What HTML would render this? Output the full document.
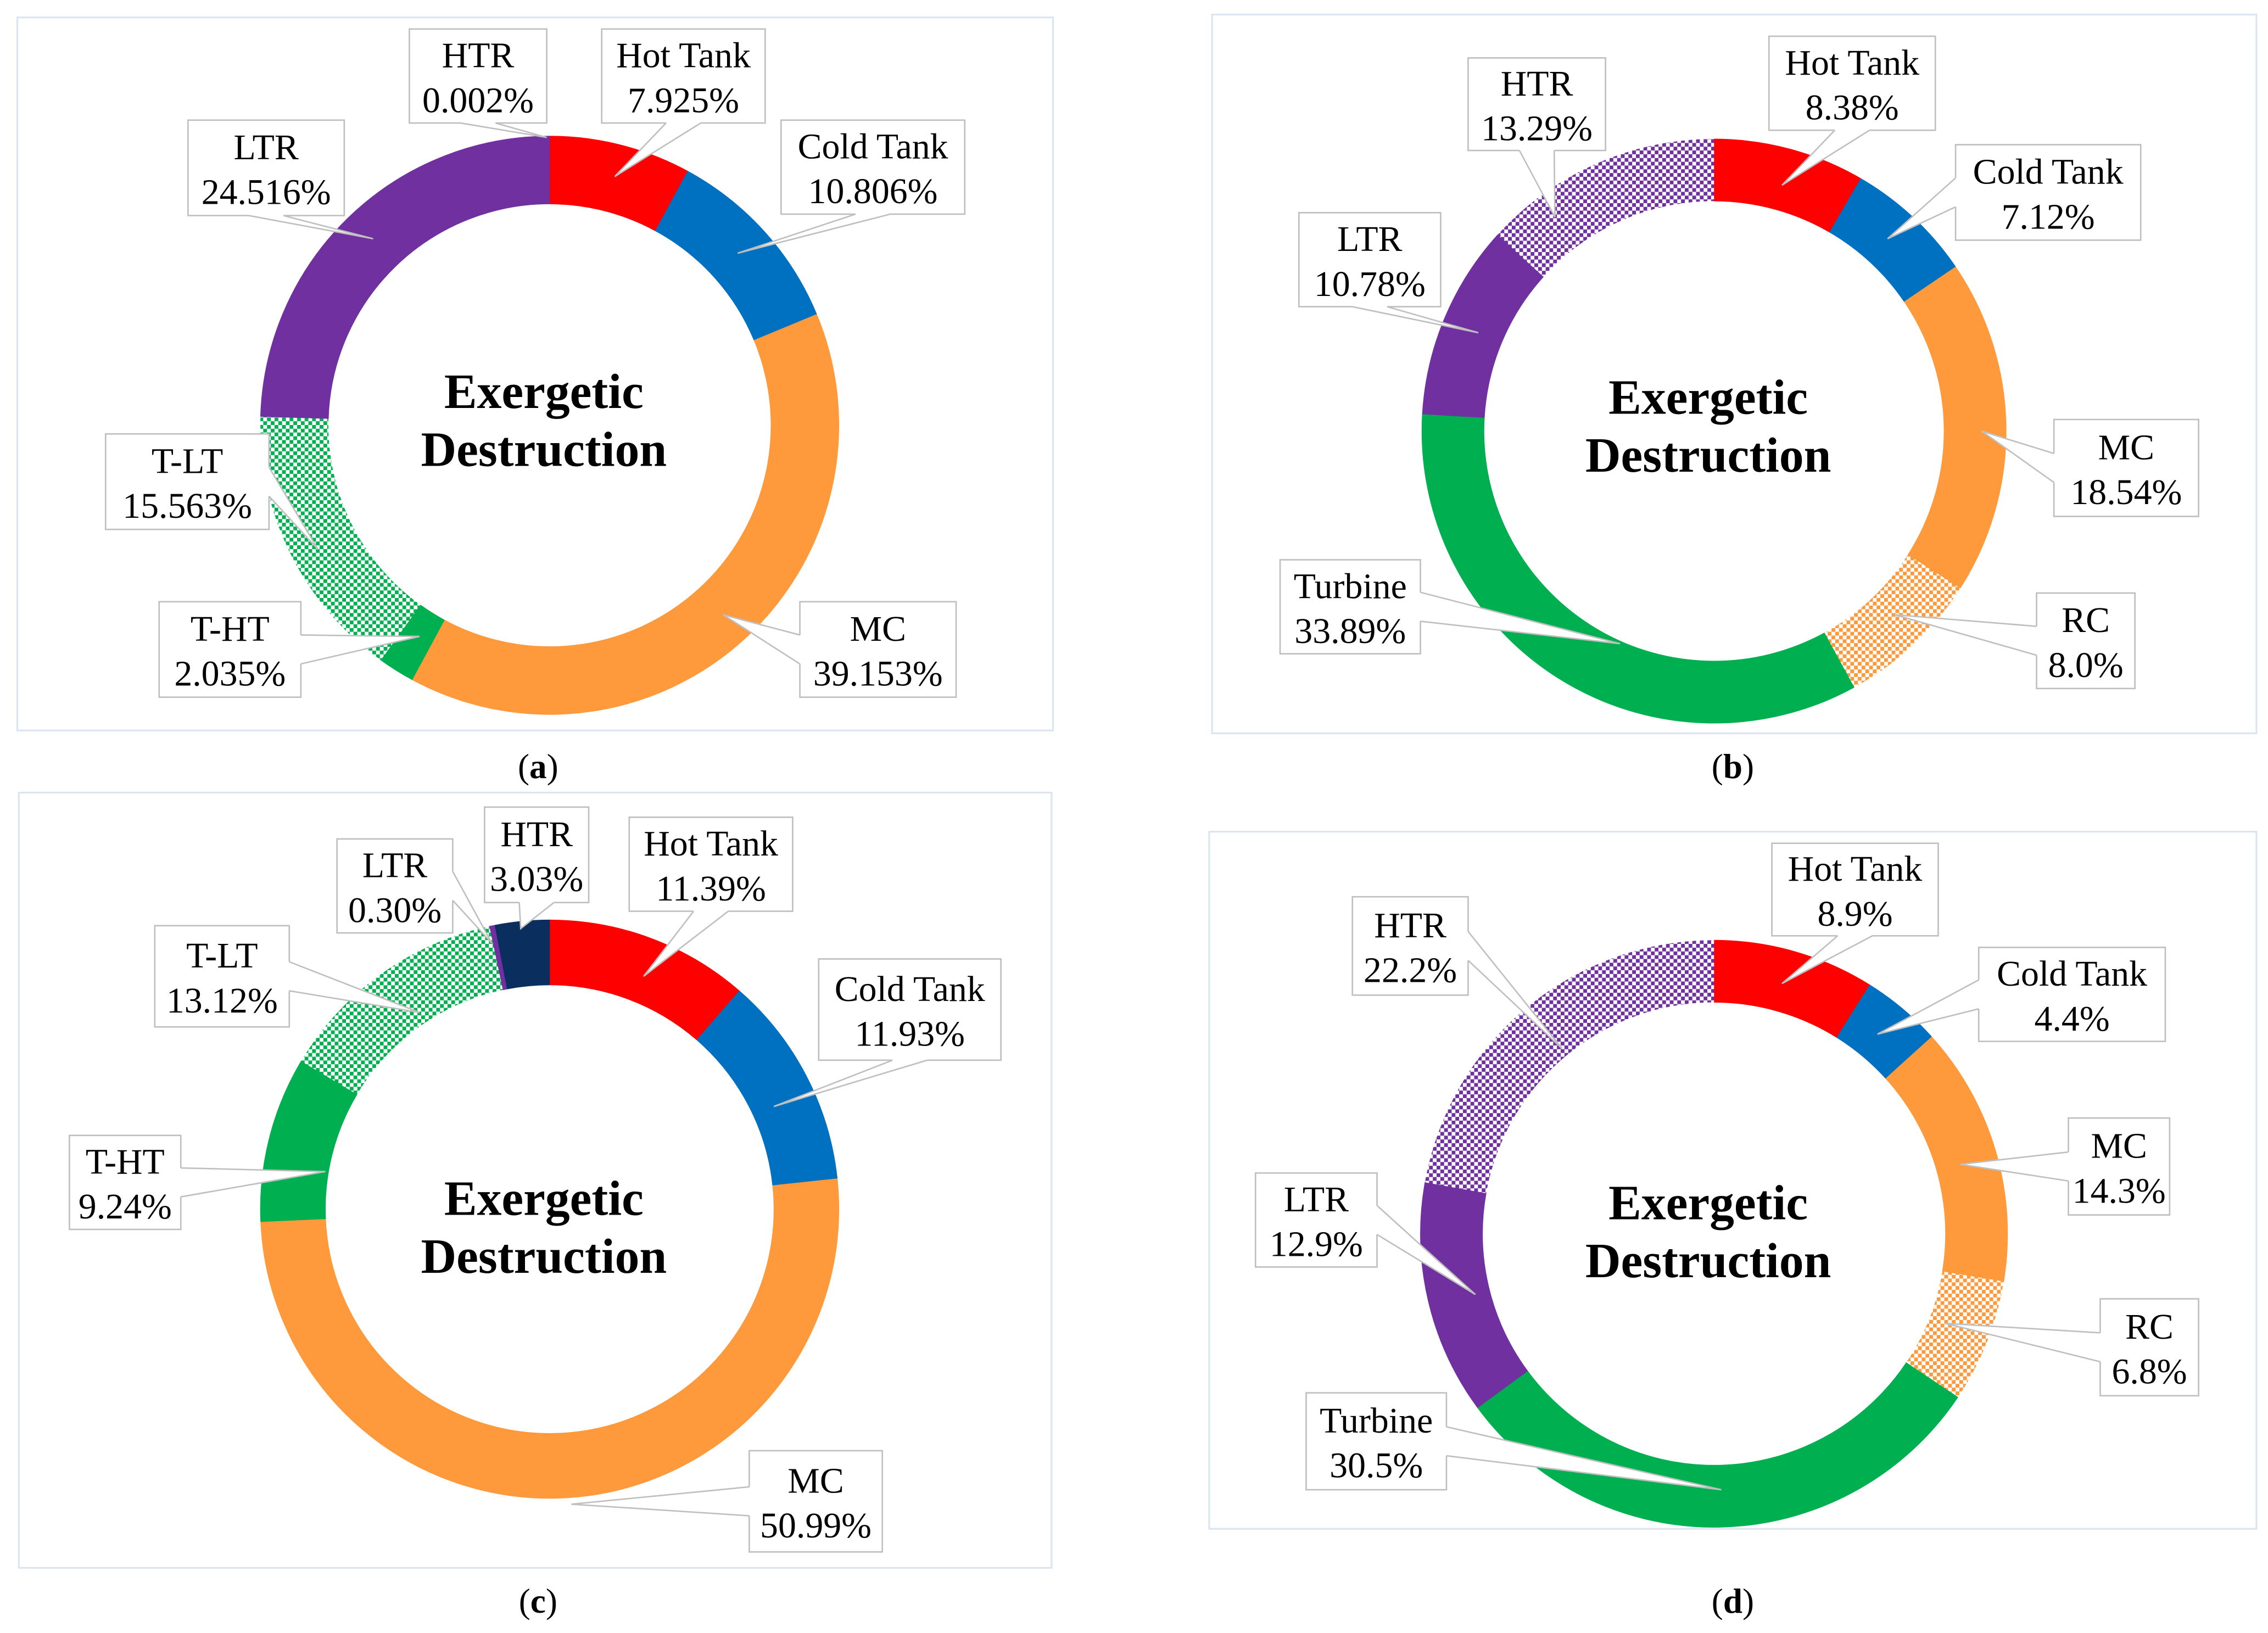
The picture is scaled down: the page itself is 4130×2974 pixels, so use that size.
<!DOCTYPE html>
<html><head><meta charset="utf-8"><style>
html,body{margin:0;padding:0;background:#fff;}
svg{display:block;}
svg text{font-family:"Liberation Serif","DejaVu Serif",serif;}
</style></head><body>
<svg id="fig" width="4130" height="2974" viewBox="0 0 1568 1129" xmlns="http://www.w3.org/2000/svg" font-family="Liberation Serif, serif">
<defs>
<pattern id="chkGreen" width="5.2" height="5.2" patternUnits="userSpaceOnUse"><rect width="5.2" height="5.2" fill="#fff"/><rect width="2.6" height="2.6" fill="#00b050"/><rect x="2.6" y="2.6" width="2.6" height="2.6" fill="#00b050"/></pattern>
<pattern id="chkOrange" width="5.2" height="5.2" patternUnits="userSpaceOnUse"><rect width="5.2" height="5.2" fill="#fff"/><rect width="2.6" height="2.6" fill="#ff9a3c"/><rect x="2.6" y="2.6" width="2.6" height="2.6" fill="#ff9a3c"/></pattern>
<pattern id="chkPurple" width="5.2" height="5.2" patternUnits="userSpaceOnUse"><rect width="5.2" height="5.2" fill="#fff"/><rect width="2.6" height="2.6" fill="#7030a0"/><rect x="2.6" y="2.6" width="2.6" height="2.6" fill="#7030a0"/></pattern>
</defs>
</svg>
<script>
// ---- data ----
const catsA = ["Hot Tank","Cold Tank","MC","T-HT","T-LT","LTR","HTR"];
const valsA = [7.925,10.806,39.153,2.035,15.563,24.516,0.002];
const lblsA = ["7.925%","10.806%","39.153%","2.035%","15.563%","24.516%","0.002%"];
const catsB = ["Hot Tank","Cold Tank","MC","RC","Turbine","LTR","HTR"];
const valsB = [8.38,7.12,18.54,8.0,33.89,10.78,13.29];
const lblsB = ["8.38%","7.12%","18.54%","8.0%","33.89%","10.78%","13.29%"];
const catsC = ["Hot Tank","Cold Tank","MC","T-HT","T-LT","LTR","HTR"];
const valsC = [11.39,11.93,50.99,9.24,13.12,0.30,3.03];
const lblsC = ["11.39%","11.93%","50.99%","9.24%","13.12%","0.30%","3.03%"];
const catsD = ["Hot Tank","Cold Tank","MC","RC","Turbine","LTR","HTR"];
const valsD = [8.9,4.4,14.3,6.8,30.5,12.9,22.2];
const lblsD = ["8.9%","4.4%","14.3%","6.8%","30.5%","12.9%","22.2%"];

const NS="http://www.w3.org/2000/svg";
const svg=document.getElementById('fig');
const FF='Liberation Serif, serif';
function mk(t,a,p){const e=document.createElementNS(NS,t);for(const k in a)e.setAttribute(k,a[k]);(p||svg).appendChild(e);return e;}

const panels=[
 {id:'a',cats:catsA,vals:valsA,lbls:lblsA,box:[12,12,716,493],c:[380,294],ro:200,ri:153,cap:[372,530],ty:0,
  fills:['#ff0000','#0070c0','#ff9a3c','#00b050','url(#chkGreen)','#7030a0','#7030a0'],
  lab:[[416,20,113,65,425,122],[540,83,127,65,510,175],[553,416,108,66,500,425],[110,416,98,66,290,440],[73,300,113,66,220,380],[130,83,108,66,258,165],[283,20,95,65,378,95]]},
 {id:'b',cats:catsB,vals:valsB,lbls:lblsB,box:[838,10,722,497],c:[1185,298],ro:202,ri:159,cap:[1198,530],ty:0,
  fills:['#ff0000','#0070c0','#ff9a3c','url(#chkOrange)','#00b050','#7030a0','url(#chkPurple)'],
  lab:[[1223,25,115,65,1232,128],[1352,100,128,66,1305,165],[1420,290,100,67,1370,298],[1408,410,68,66,1310,425],[885,387,97,65,1120,445],[898,147,98,65,1022,230],[1015,40,95,64,1075,150]]},
 {id:'c',cats:catsC,vals:valsC,lbls:lblsC,box:[13,548,714,536],c:[380,836],ro:200,ri:155,cap:[372,1107],ty:16,
  fills:['#ff0000','#0070c0','#ff9a3c','#00b050','url(#chkGreen)','#7030a0','#0a2f5e'],
  lab:[[435,565,113,65,445,675],[566,663,126,70,535,765],[518,1003,92,70,395,1040],[48,785,77,65,225,810],[107,640,93,70,290,700],[233,580,80,65,340,652],[335,558,72,66,360,642]]},
 {id:'d',cats:catsD,vals:valsD,lbls:lblsD,box:[836,575,724,482],c:[1185,853],ro:203,ri:160,cap:[1198,1107],ty:2,
  fills:['#ff0000','#0070c0','#ff9a3c','url(#chkOrange)','#00b050','#7030a0','url(#chkPurple)'],
  lab:[[1225,583,115,64,1232,680],[1368,655,129,65,1298,715],[1430,773,70,67,1355,805],[1452,898,68,67,1345,915],[903,963,97,67,1190,1030],[868,811,84,65,1020,895],[935,620,80,68,1080,725]]}
];

function pt(c,r,f){const a=f*2*Math.PI-Math.PI/2;return [c[0]+r*Math.cos(a),c[1]+r*Math.sin(a)];}

panels.forEach(P=>{
  const g=mk('g',{});
  
  
  const fr=mk('rect',{x:P.box[0],y:P.box[1],width:P.box[2],height:P.box[3],fill:'#fff',stroke:'#dbe5f1','stroke-width':1.2},g);
  
  
  const tot=P.vals.reduce((s,v)=>s+v,0);
  let acc=0;
  P.vals.forEach((v,i)=>{
    const f0=acc/tot,f1=(acc+v)/tot;acc+=v;
    const large=(f1-f0)>0.5?1:0;
    const a=pt(P.c,P.ro,f0),b=pt(P.c,P.ro,f1),c2=pt(P.c,P.ri,f1),d=pt(P.c,P.ri,f0);
    const dstr=`M${a[0]},${a[1]} A${P.ro},${P.ro} 0 ${large} 1 ${b[0]},${b[1]} L${c2[0]},${c2[1]} A${P.ri},${P.ri} 0 ${large} 0 ${d[0]},${d[1]} Z`;
    const s=mk('path',{d:dstr,fill:P.fills[i],stroke:P.fills[i].startsWith('url')?'none':P.fills[i],'stroke-width':0.3},g);
    
    
  });
  const t1=mk('text',{x:P.c[0]-4,y:P.c[1]-12+P.ty,'text-anchor':'middle','font-size':34,'font-weight':'bold','font-family':FF},g);
  t1.textContent='Exergetic';
  
  
  const t2=mk('text',{x:P.c[0]-4,y:P.c[1]+28+P.ty,'text-anchor':'middle','font-size':34,'font-weight':'bold','font-family':FF},g);
  t2.textContent='Destruction';
  
  
  P.lab.forEach((L,i)=>{
    const [x,y,w,h,tx,ty]=L;
    const lg=mk('g',{},g);
    
    
    const cx=x+w/2,cy=y+h/2;
    const dx=tx-cx,dy=ty-cy;
    let p1,p2,q1,q2;
    if(Math.abs(dx/w)>Math.abs(dy/h)){const ex=dx>0?x+w:x;const inn=dx>0?-2:2;p1=[ex,cy-10];p2=[ex,cy+10];q1=[ex+inn,cy-10];q2=[ex+inn,cy+10];}
    else{const ey=dy>0?y+h:y;const inn=dy>0?-2:2;p1=[cx-12,ey];p2=[cx+12,ey];q1=[cx-12,ey+inn];q2=[cx+12,ey+inn];}
    mk('rect',{x:x,y:y,width:w,height:h,fill:'#fff',stroke:'#bfbfbf','stroke-width':1},lg);
    mk('polygon',{points:`${q1[0]},${q1[1]} ${p1[0]},${p1[1]} ${tx},${ty} ${p2[0]},${p2[1]} ${q2[0]},${q2[1]}`,fill:'#fff',stroke:'none'},lg);
    mk('polyline',{points:`${p1[0]},${p1[1]} ${tx},${ty} ${p2[0]},${p2[1]}`,fill:'none',stroke:'#bfbfbf','stroke-width':1},lg);
    const a=mk('text',{x:cx,y:cy-6,'text-anchor':'middle','font-size':25,'font-family':FF},lg);a.textContent=P.cats[i];
    const b=mk('text',{x:cx,y:cy+25,'text-anchor':'middle','font-size':25,'font-family':FF},lg);b.textContent=P.lbls[i];
  });
  const cap=mk('text',{x:P.cap[0],y:P.cap[1]+8,'text-anchor':'middle','font-size':24,'font-family':FF},g);
  cap.innerHTML='(<tspan font-weight="bold">'+P.id+'</tspan>)';
  
  
});
</script>
</body></html>
